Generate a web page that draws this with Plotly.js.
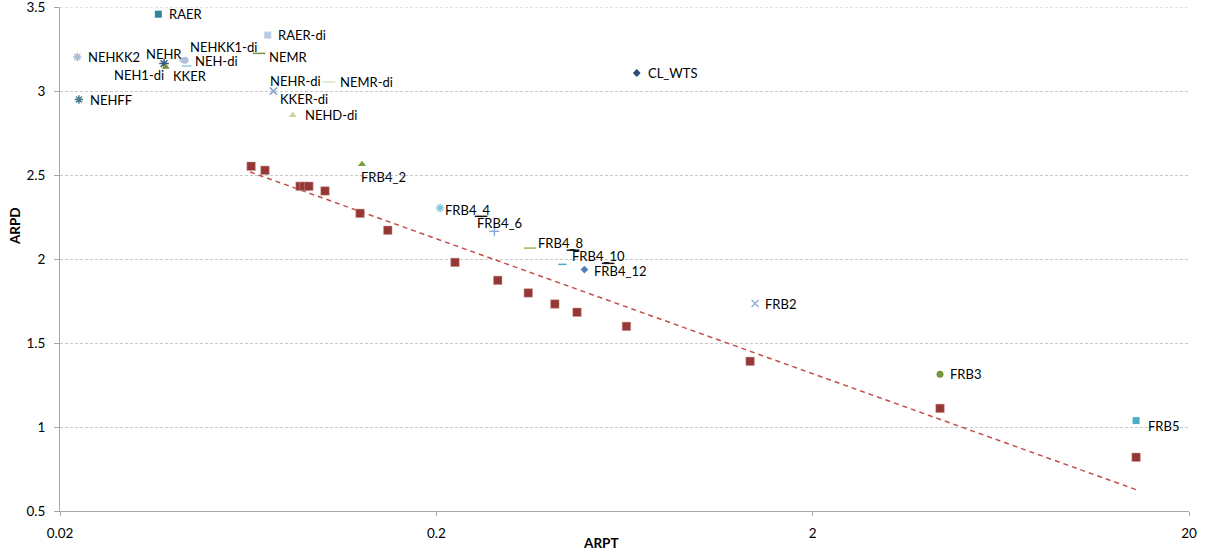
<!DOCTYPE html>
<html>
<head>
<meta charset="utf-8">
<script src="https://cdn.plot.ly/plotly-3.0.1.min.js"></script>
<style>
html,body{margin:0;padding:0;background:#fff;}
#chart{width:1207px;height:556px;}
</style>
</head>
<body>
<div id="chart"></div>
<script>
// ---- Data ----
// Main series (dark red squares) with logarithmic trend line
const mainARPT = [0.0644, 0.0701, 0.0869, 0.0890, 0.0917, 0.1012, 0.1254, 0.1486, 0.2242, 0.2912, 0.351, 0.413, 0.473, 0.640, 1.364, 4.36, 14.47];
const mainARPD = [2.552, 2.528, 2.433, 2.433, 2.433, 2.405, 2.272, 2.171, 1.980, 1.873, 1.798, 1.732, 1.683, 1.599, 1.391, 1.111, 0.820];

// Trend line end points as drawn
const trendARPT = [0.0640, 14.47];
const trendARPD = [2.518, 0.627];

// Labelled points
const pointNames = ["RAER", "RAER-di", "NEHKK2", "NEHFF", "NEHR", "NEH1-di", "NEHKK1-di", "NEH-di", "KKER", "NEMR",
  "NEHR-di", "KKER-di", "NEMR-di", "NEHD-di", "CL_WTS", "FRB4_2", "FRB4_4", "FRB4_6", "FRB4_8", "FRB4_10",
  "FRB4_12", "FRB2", "FRB3", "FRB5"];
const pointARPT = [0.0365, 0.0713, 0.02224, 0.02246, 0.0378, 0.0382, 0.0422, 0.0430, 0.0434, 0.0676,
  0.0738, 0.0738, 0.1037, 0.0831, 0.6817, 0.1269, 0.2046, 0.2853, 0.3549, 0.4325,
  0.4949, 1.406, 4.36, 14.47];
const pointARPD = [3.457, 3.333, 3.202, 2.949, 3.163, 3.143, 3.183, 3.183, 3.149, 3.224,
  3.000, 2.998, 3.054, 2.855, 3.107, 2.564, 2.304, 2.165, 2.065, 1.968,
  1.937, 1.735, 1.314, 1.038];

// Small unlabelled dark dash markers
const dashARPT = [0.263, 0.4616, 0.572];
const dashARPD = [2.254, 2.052, 1.974];

// Axis ticks
const yTicks = [0.5, 1, 1.5, 2, 2.5, 3, 3.5];
const yTickText = ["0.5", "1", "1.5", "2", "2.5", "3", "3.5"];
const xTicks = [0.02, 0.2, 2, 20];
const xTickText = ["0.02", "0.2", "2", "20"];

// ---- Styles ----
const pointSymbols = ["square", "square", "asterisk-open", "asterisk-open", "asterisk-open", "triangle-up", "diamond", "circle", "line-ew-open", "line-ew-open",
  "x-thin-open", "x-thin-open", "line-ew-open", "triangle-up", "diamond", "triangle-up", "asterisk-open", "cross-thin-open", "line-ew-open", "line-ew-open",
  "diamond", "x-thin-open", "circle", "square"];
const pointColors = ["#31849B", "#B9CDE5", "#A9B8CC", "#4A7F8C", "#3A5A80", "#77933C", "#B9CDE5", "#B4BFD6", "#93CDDD", "#77933C",
  "#95A9D0", "#95A9D0", "#D7E4BD", "#C3D69B", "#2C4D75", "#77A03C", "#7FC6DA", "#8EA9D8", "#9BBB59", "#4BACC6",
  "#4F81BD", "#95B3D7", "#77933C", "#4BACC6"];
const pointSizes = [7, 7, 7, 7, 8, 7, 5, 7, 7, 9, 7, 7, 9, 7, 6, 7, 7, 7, 9, 6, 6, 7, 7, 7];
// label placement: [xanchor, xshift(px), yshift(px)]
const labelPlace = [
  ["left", 9, 0], ["left", 8, 0], ["left", 9, 0], ["left", 9, 0], ["center", 0, 10],
  ["right", 0, -8], ["left", 6, 13], ["left", 8, -1], ["center", 3, -10], ["left", 8, -4],
  ["left", -5, 10], ["left", 5, -8], ["left", 9, 0], ["left", 10, 0], ["left", 9, 0],
  ["left", -3, -13], ["left", 3, -2], ["left", -19, 8], ["left", 6, 5], ["left", 8, 8],
  ["left", 8, -1], ["left", 8, 0], ["left", 8, 0], ["left", 10, -5]
];

const FONT = "Lato, 'Open Sans', 'DejaVu Sans', sans-serif";

const traces = [];
traces.push({
  x: trendARPT, y: trendARPD, mode: "lines", type: "scatter", hoverinfo: "skip",
  line: {color: "#C0504D", width: 1.5, dash: "5px,4px"}
});
traces.push({
  x: mainARPT, y: mainARPD, mode: "markers", type: "scatter",
  marker: {symbol: "square", size: 8.5, color: "#953735", line: {width: 0.5, color: "#C89A99"}}
});
traces.push({
  x: dashARPT, y: dashARPD, mode: "markers", type: "scatter",
  marker: {symbol: "line-ew-open", size: 9, color: "#1a1a1a", line: {width: 1.5, color: "#1a1a1a"}}
});
for (let i = 0; i < pointNames.length; i++) {
  const open = pointSymbols[i].indexOf("open") >= 0;
  traces.push({
    x: [pointARPT[i]], y: [pointARPD[i]], mode: "markers", type: "scatter", name: pointNames[i],
    marker: {
      symbol: pointSymbols[i], size: pointSizes[i], color: pointColors[i],
      line: {width: open ? 1.5 : 0, color: pointColors[i]}
    }
  });
}

const annotations = pointNames.map((n, i) => ({
  x: Math.log10(pointARPT[i]), y: pointARPD[i], xref: "x", yref: "y",
  text: n, showarrow: false, xanchor: labelPlace[i][0], yanchor: "middle",
  xshift: labelPlace[i][1], yshift: labelPlace[i][2],
  font: {family: FONT, size: 13, color: "#000"}
}));
annotations.push({
  text: "<b>ARPD</b>", xref: "paper", yref: "paper", x: -0.040, y: 0.565,
  showarrow: false, textangle: -90, xanchor: "center", yanchor: "middle",
  font: {family: FONT, size: 13.5, color: "#000"}
});
annotations.push({
  text: "<b>ARPT</b>", xref: "paper", yref: "paper", x: 0.479, y: -0.0635,
  showarrow: false, xanchor: "center", yanchor: "middle",
  font: {family: FONT, size: 13.5, color: "#000"}
});

const layout = {
  width: 1207, height: 556,
  margin: {l: 60, r: 18, t: 7, b: 45, pad: 0},
  paper_bgcolor: "#fff", plot_bgcolor: "#fff",
  showlegend: false,
  font: {family: FONT, size: 13, color: "#000"},
  xaxis: {
    type: "log", range: [Math.log10(0.02), Math.log10(20)],
    tickvals: xTicks, ticktext: xTickText,
    showgrid: false, zeroline: false,
    showline: true, linecolor: "#A6A6A6", linewidth: 1,
    ticks: "outside", ticklen: 4, tickcolor: "#A6A6A6",
    ticklabelstandoff: 6, ticklabeloverflow: "allow",
    tickfont: {family: FONT, size: 13.5, color: "#000"}
  },
  yaxis: {
    range: [0.5, 3.5],
    tickvals: yTicks, ticktext: yTickText,
    showgrid: true, gridcolor: "#C8C8C8", griddash: "3px,2px", gridwidth: 1,
    zeroline: false, showline: true, linecolor: "#A6A6A6", linewidth: 1,
    ticks: "outside", ticklen: 5, tickcolor: "#A6A6A6",
    ticklabelstandoff: 6, ticklabeloverflow: "allow",
    tickfont: {family: FONT, size: 13.5, color: "#000"}
  },
  shapes: [{
    type: "line", xref: "paper", yref: "y", x0: 0, x1: 1, y0: yTicks[yTicks.length - 1], y1: yTicks[yTicks.length - 1],
    line: {color: "#C8C8C8", width: 1, dash: "3px,2px"}, layer: "below"
  }],
  annotations: annotations
};

Plotly.newPlot("chart", traces, layout, {displayModeBar: false, staticPlot: true});
</script>
</body>
</html>
